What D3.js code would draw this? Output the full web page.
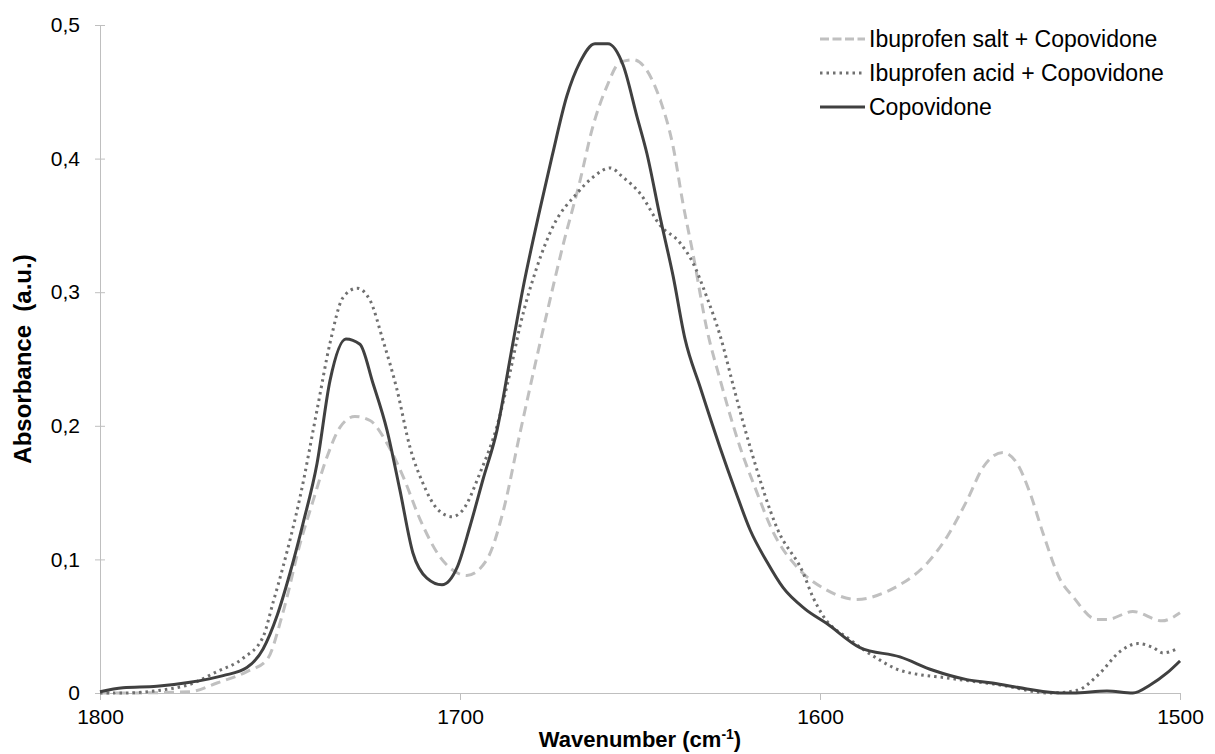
<!DOCTYPE html>
<html>
<head>
<meta charset="utf-8">
<script src="https://cdn.jsdelivr.net/npm/d3@7"></script>
<style>
  html, body { margin: 0; padding: 0; background: #fff; }
  svg { display: block; font-family: "Liberation Sans", Arial, sans-serif; }
</style>
</head>
<body>
<svg id="chart" width="1215" height="754"></svg>
<script>
// ---------- data ----------
const seriesNames = ["Ibuprofen salt + Copovidone", "Ibuprofen acid + Copovidone", "Copovidone"];

const xTicks = [1800, 1700, 1600, 1500];
const yTicks = [0, 0.1, 0.2, 0.3, 0.4, 0.5];
const yTickLabels = ["0", "0,1", "0,2", "0,3", "0,4", "0,5"];

// Copovidone (solid)
const wnCopo = [1800, 1793.6, 1784.2, 1775, 1765.8, 1759.2, 1754.7, 1750.8, 1747.2, 1743.6, 1739.7, 1736.1, 1731.7, 1727.8, 1724.2, 1720.3, 1716.7, 1713.1, 1709.2, 1705, 1700.8, 1697.2, 1693.6, 1689.7, 1686.1, 1682.5, 1677.8, 1674.4, 1670.3, 1666.7, 1662.5, 1658.9, 1654.7, 1650.8, 1648.1, 1644.4, 1640.8, 1637.5, 1633.3, 1627.8, 1623.6, 1619.4, 1614.7, 1610.3, 1604.2, 1598.1, 1588.9, 1577.8, 1568.6, 1559.2, 1552.1, 1542.5, 1533.3, 1529.7, 1520.3, 1513.1, 1508.3, 1503.6, 1500];
const absCopo = [0.001, 0.004, 0.005, 0.008, 0.013, 0.019, 0.033, 0.058, 0.090, 0.127, 0.172, 0.234, 0.265, 0.261, 0.232, 0.197, 0.152, 0.105, 0.086, 0.081, 0.094, 0.125, 0.160, 0.197, 0.250, 0.303, 0.362, 0.402, 0.447, 0.472, 0.486, 0.486, 0.470, 0.431, 0.404, 0.356, 0.312, 0.265, 0.229, 0.184, 0.152, 0.122, 0.098, 0.079, 0.063, 0.052, 0.034, 0.027, 0.017, 0.010, 0.0075, 0.003, 0.000, 0.000, 0.0015, 0.000, 0.006, 0.015, 0.024];

// Ibuprofen acid + Copovidone (dotted)
const wnAcid = [1800, 1794.4, 1776.9, 1767.5, 1760.3, 1754.7, 1751.9, 1749.2, 1744.4, 1739.7, 1736.1, 1732.5, 1728.6, 1725, 1721.4, 1717.5, 1713.9, 1710.3, 1706.4, 1702.2, 1699.2, 1694.4, 1689.7, 1686.1, 1683.3, 1678.6, 1674.2, 1667.5, 1663.1, 1658.3, 1654.7, 1650, 1644.4, 1638.9, 1635.3, 1631.4, 1627.8, 1623.6, 1619.4, 1611.7, 1604.7, 1602, 1599.2, 1591.7, 1584.2, 1577.8, 1563.9, 1550, 1536.1, 1528.6, 1522.2, 1516.7, 1511.7, 1507.5, 1504.7, 1500.8];
const absAcid = [0.000, 0.000, 0.005, 0.016, 0.026, 0.042, 0.068, 0.094, 0.147, 0.212, 0.262, 0.296, 0.303, 0.294, 0.264, 0.227, 0.184, 0.157, 0.138, 0.132, 0.137, 0.165, 0.200, 0.240, 0.275, 0.319, 0.349, 0.374, 0.386, 0.393, 0.386, 0.374, 0.350, 0.337, 0.322, 0.296, 0.268, 0.225, 0.184, 0.122, 0.090, 0.072, 0.058, 0.040, 0.026, 0.017, 0.011, 0.006, 0.000, 0.002, 0.015, 0.031, 0.037, 0.034, 0.030, 0.033];

// Ibuprofen salt + Copovidone (dashed)
const wnSalt = [1800, 1793.6, 1775, 1767.5, 1759.2, 1753.6, 1749.2, 1744.4, 1740.8, 1736.9, 1733.3, 1729.2, 1725, 1720.3, 1715.8, 1711.1, 1705.6, 1700.8, 1698.1, 1692.5, 1688.1, 1683.3, 1679.2, 1675.8, 1671.4, 1666.7, 1663.1, 1659.2, 1655.6, 1651.9, 1648.1, 1644.4, 1640.8, 1638.1, 1635.3, 1631.4, 1627.8, 1622.2, 1617.5, 1613.3, 1605.6, 1598.1, 1589.7, 1581.4, 1577.8, 1570.3, 1564.7, 1559.2, 1554.7, 1549.2, 1545.3, 1541.7, 1538.1, 1533.3, 1529.7, 1523.1, 1520.3, 1513.1, 1505, 1500];
const absSalt = [0.000, 0.000, 0.001, 0.0075, 0.016, 0.025, 0.060, 0.112, 0.144, 0.177, 0.199, 0.207, 0.204, 0.187, 0.162, 0.130, 0.102, 0.090, 0.088, 0.100, 0.135, 0.195, 0.245, 0.285, 0.335, 0.383, 0.424, 0.454, 0.472, 0.474, 0.466, 0.444, 0.409, 0.367, 0.329, 0.272, 0.235, 0.184, 0.150, 0.122, 0.092, 0.077, 0.070, 0.076, 0.081, 0.097, 0.117, 0.144, 0.169, 0.180, 0.172, 0.150, 0.120, 0.085, 0.072, 0.055, 0.055, 0.061, 0.054, 0.060];

// ---------- chart ----------
const svg = d3.select("#chart");
const mLeft = 100, mRight = 1180, mTop = 25, mBottom = 693;

const x = d3.scaleLinear().domain([1800, 1500]).range([mLeft, mRight]);
const y = d3.scaleLinear().domain([0, 0.5]).range([mBottom, mTop]);

const axisColor = "#bfbfbf";

// y axis
const yAxis = svg.append("g")
  .attr("transform", `translate(${mLeft},0)`)
  .call(d3.axisLeft(y).tickValues(yTicks).tickSizeInner(6).tickSizeOuter(0).tickPadding(14)
    .tickFormat((d, i) => yTickLabels[i]));
yAxis.select(".domain").attr("stroke", axisColor);
yAxis.selectAll(".tick line").attr("stroke", axisColor).attr("x2", 5).attr("x1", -5);
yAxis.selectAll(".tick text").attr("font-size", 21).attr("fill", "#000")
  .attr("font-family", "Liberation Sans, Arial, sans-serif").attr("x", -20);

// x axis
const xAxis = svg.append("g")
  .attr("transform", `translate(0,${mBottom})`)
  .call(d3.axisBottom(x).tickValues(xTicks).tickSizeInner(7).tickSizeOuter(0).tickPadding(9)
    .tickFormat(d3.format("d")));
xAxis.select(".domain").attr("stroke", axisColor);
xAxis.selectAll(".tick line").attr("stroke", axisColor);
xAxis.selectAll(".tick text").attr("font-size", 21).attr("fill", "#000")
  .attr("font-family", "Liberation Sans, Arial, sans-serif");

// axis titles
const xt = svg.append("text")
  .attr("x", (mLeft + mRight) / 2).attr("y", 747)
  .attr("text-anchor", "middle").attr("font-weight", "bold").attr("font-size", 22);
xt.append("tspan").text("Wavenumber (cm");
xt.append("tspan").text("-1").attr("font-size", 14).attr("dy", -8);
xt.append("tspan").text(")").attr("dy", 8);

svg.append("text")
  .attr("transform", `translate(31,${(mTop + mBottom) / 2}) rotate(-90)`)
  .attr("text-anchor", "middle").attr("font-weight", "bold").attr("font-size", 24)
  .attr("xml:space", "preserve")
  .text("Absorbance  (a.u.)");

// lines
const line = d3.line().x(d => x(d[0])).y(d => y(d[1])).curve(d3.curveMonotoneX);

const series = [
  { name: seriesNames[0], wn: wnSalt, ab: absSalt, color: "#c0c0c0", width: 3, dash: "10,6", legDash: "9,3.5" },
  { name: seriesNames[1], wn: wnAcid, ab: absAcid, color: "#707070", width: 3, dash: "2.5,4", legDash: "2.5,4" },
  { name: seriesNames[2], wn: wnCopo, ab: absCopo, color: "#404040", width: 3, dash: null, legDash: null }
];

series.forEach(s => {
  const pts = s.wn.map((w, i) => [w, s.ab[i]]);
  svg.append("path")
    .attr("d", line(pts))
    .attr("fill", "none")
    .attr("stroke", s.color)
    .attr("stroke-width", s.width)
    .attr("stroke-dasharray", s.dash)
    .attr("stroke-linejoin", "round");
});

// legend
const lg = svg.append("g");
series.forEach((s, i) => {
  const yy = 39 + i * 34;
  lg.append("line")
    .attr("x1", 820).attr("x2", 865).attr("y1", yy).attr("y2", yy)
    .attr("stroke", s.color).attr("stroke-width", s.width)
    .attr("stroke-dasharray", s.legDash);
  lg.append("text")
    .attr("x", 869).attr("y", yy).attr("dy", "0.35em")
    .attr("font-size", 23).attr("fill", "#000")
    .text(s.name);
});
</script>
</body>
</html>
